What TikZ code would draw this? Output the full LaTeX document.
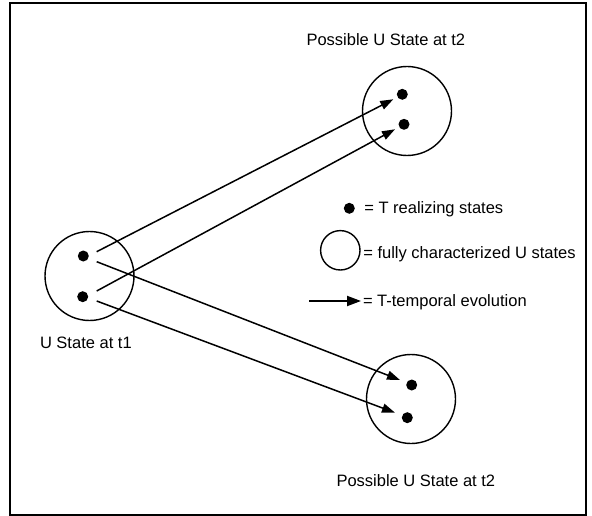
\documentclass[tikz,border=0pt]{standalone}
\usepackage{fontspec}
\setmainfont{Liberation Sans}
\usetikzlibrary{arrows.meta}
\begin{document}
\begin{tikzpicture}[x=1pt,y=-1pt,
  every node/.style={inner sep=0pt,outer sep=0pt,font=\fontsize{16.5}{19}\selectfont},
  ustate/.style={draw,circle,line width=1.4pt,minimum size=89pt},
  tstate/.style={fill,circle,minimum size=11pt},
  evol/.style={line width=1.5pt,-{Triangle[length=13pt,width=9pt]}},
  lbl/.style={anchor=base west}]
  % canvas and frame
  \useasboundingbox (0,0) rectangle (592,516);
  \draw[line width=2pt] (10,3.3) rectangle (586,514.7);

  % U states
  \node[ustate] (u1) at (89.5,276) {};
  \node[ustate] (u2a) at (407,111) {};
  \node[ustate] (u2b) at (411,399) {};

  % T realizing states
  \node[tstate] (p1) at (83.3,256) {};
  \node[tstate] (p2) at (82.7,296.7) {};
  \node[tstate] (q1) at (402.3,94.3) {};
  \node[tstate] (q2) at (404,124.3) {};
  \node[tstate] (r1) at (411.7,385) {};
  \node[tstate] (r2) at (407.3,417.7) {};

  % line start and tip points
  \coordinate (p1u) at (96.7,251.7);
  \coordinate (p1d) at (96.7,261.7);
  \coordinate (p2u) at (96.7,291);
  \coordinate (p2d) at (96.7,301);
  \coordinate (q1t) at (393.3,99.3);
  \coordinate (q2t) at (395,129.3);
  \coordinate (r1t) at (400,380);
  \coordinate (r2t) at (395,412.7);

  % temporal evolutions
  \draw[evol] (p1u) -- (q1t);
  \draw[evol] (p2u) -- (q2t);
  \draw[evol] (p1d) -- (r1t);
  \draw[evol] (p2d) -- (r2t);

  % labels
  \node[lbl] (t2a) at (306.5,45.7) {Possible U State at t2};
  \node[lbl] (t1) at (40,348.3) {U State at t1};
  \node[lbl] (t2b) at (336.5,486.7) {Possible U State at t2};

  % legend
  \node[tstate] (kdot) at (349.3,208.3) {};
  \node[lbl] (kdott) at (364.3,214) {= T realizing states};
  \node[draw,circle,line width=1.4pt,minimum size=39.4pt] (kcirc) at (340.3,250.3) {};
  \node[lbl] (kcirct) at (363.3,258.3) {= fully characterized U states};
  \coordinate (ka) at (309.3,301);
  \coordinate (kb) at (361,301);
  \draw[line width=2pt,-{Triangle[length=14pt,width=10pt]}] (ka) -- (kb);
  \node[lbl] (karrt) at (363,306.7) {= T-temporal evolution};
\end{tikzpicture}
\end{document}
